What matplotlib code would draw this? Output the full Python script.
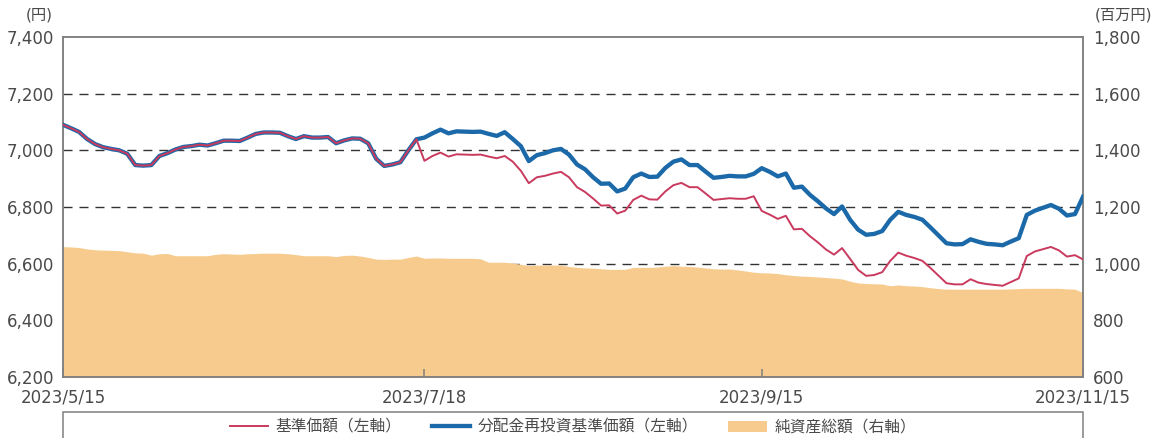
import numpy as np
import pandas as pd
import matplotlib
matplotlib.use('Agg')
import matplotlib.pyplot as plt
from matplotlib.lines import Line2D
from matplotlib.patches import Patch, Rectangle

plt.rcParams['font.family'] = ['DejaVu Sans', 'Noto Sans CJK JP']

# 営業日（日本の祝日を除く）
holidays = ['2023-07-17', '2023-08-11', '2023-09-18', '2023-10-09', '2023-11-03']
dates = pd.bdate_range('2023-05-15', '2023-11-15', freq='C', holidays=holidays)
tick_dates = ['2023-05-15', '2023-07-18', '2023-09-15', '2023-11-15']
tick_labels = ['2023/5/15', '2023/7/18', '2023/9/15', '2023/11/15']

# 基準価額（円）
nav = [7090, 7078, 7065, 7040, 7022, 7011, 7005, 7000, 6988, 6948,
       6946, 6948, 6980, 6990, 7003, 7012, 7015, 7020, 7017, 7025,
       7034, 7034, 7033, 7045, 7058, 7063, 7063, 7062, 7050, 7040,
       7050, 7045, 7045, 7047, 7025, 7035, 7042, 7041, 7025, 6970,
       6945, 6950, 6958, 7000, 7039, 6963, 6980, 6992, 6978, 6986,
       6985, 6984, 6985, 6978, 6972, 6980, 6960, 6928, 6884, 6905,
       6910, 6918, 6924, 6905, 6870, 6853, 6830, 6805, 6806, 6777,
       6787, 6825, 6840, 6827, 6826, 6855, 6877, 6885, 6870, 6870,
       6848, 6825, 6828, 6831, 6829, 6829, 6838, 6786, 6773, 6758,
       6769, 6721, 6723, 6697, 6675, 6650, 6632, 6655, 6617, 6578,
       6557, 6560, 6570, 6610, 6639, 6628, 6620, 6610, 6585, 6558,
       6531, 6527, 6527, 6545, 6533, 6528, 6525, 6522, 6535, 6548,
       6627, 6643, 6651, 6659, 6647, 6625, 6630, 6615]

# 分配金再投資基準価額（円）
nav_reinv = [7090, 7078, 7065, 7040, 7022, 7011, 7005, 7000, 6988, 6948,
             6946, 6948, 6980, 6990, 7003, 7012, 7015, 7020, 7017, 7025,
             7034, 7034, 7033, 7045, 7058, 7063, 7063, 7062, 7050, 7040,
             7050, 7045, 7045, 7047, 7025, 7035, 7042, 7041, 7025, 6970,
             6945, 6950, 6958, 7000, 7039, 7045, 7060, 7073, 7060, 7067,
             7066, 7065, 7066, 7058, 7051, 7064, 7040, 7015, 6962, 6983,
             6990, 7000, 7005, 6985, 6950, 6933, 6905, 6882, 6883, 6855,
             6865, 6905, 6918, 6906, 6907, 6938, 6960, 6968, 6948, 6948,
             6925, 6903, 6906, 6910, 6908, 6908, 6917, 6937, 6924, 6908,
             6918, 6868, 6872, 6843, 6820, 6795, 6775, 6802, 6755, 6720,
             6702, 6705, 6715, 6755, 6783, 6772, 6765, 6755, 6728, 6700,
             6672, 6668, 6669, 6686, 6677, 6670, 6668, 6665, 6678, 6690,
             6772, 6787, 6797, 6807, 6794, 6770, 6775, 6836]

# 純資産総額（百万円）
net_assets = [1060, 1059, 1057, 1052, 1049, 1048, 1047, 1046, 1042, 1038,
              1037, 1030, 1035, 1036, 1028, 1028, 1028, 1028, 1028, 1033,
              1035, 1034, 1033, 1035, 1036, 1037, 1037, 1037, 1035, 1032,
              1028, 1028, 1028, 1028, 1025, 1029, 1030, 1027, 1022, 1016,
              1015, 1016, 1016, 1022, 1027, 1019, 1020, 1020, 1019, 1019,
              1019, 1019, 1017, 1005, 1005, 1005, 1002, 998, 993, 995,
              995, 995, 995, 990, 987, 985, 984, 982, 980, 980,
              980, 987, 987, 987, 988, 991, 993, 991, 990, 988,
              985, 982, 981, 981, 978, 974, 970, 968, 967, 965,
              961, 958, 956, 955, 953, 951, 949, 946, 938, 932,
              930, 929, 928, 922, 925, 922, 921, 919, 915, 912,
              910, 910, 910, 910, 910, 910, 910, 910, 911, 912,
              913, 913, 913, 913, 913, 911, 910, 898]

left_ticks = list(range(6200, 7401, 200))
right_ticks = list(range(600, 1801, 200))

red = '#C93A5E'
blue = '#1B69A8'
orange = '#F7CB8D'
gray = '#808080'
txt = '#4a4a4a'

x = np.arange(len(dates))
tick_pos = [dates.get_loc(pd.Timestamp(d)) for d in tick_dates]

W, H = 1162, 438
fig = plt.figure(figsize=(W / 100, H / 100), dpi=100)
ax = fig.add_axes([63 / W, 61 / H, 1020 / W, 340 / H])
ax2 = ax.twinx()
ax.set_zorder(ax2.get_zorder() + 1)
ax.patch.set_visible(False)

# 目盛線（内側のみ）と純資産総額（右軸）
for v in right_ticks[1:-1]:
    ax2.axhline(v, color='#333333', lw=1.0, linestyle=(0, (6.5, 5)), zorder=1)
ax2.fill_between(x, net_assets, 0, color=orange, lw=0, zorder=2)
ax2.set_ylim(right_ticks[0], right_ticks[-1])
ax2.set_yticks(right_ticks)
ax2.set_yticklabels([f'{v:,}' for v in right_ticks])

# 基準価額（左軸）
ax.plot(x, nav_reinv, color=blue, lw=3.1, solid_joinstyle='round', zorder=3)
ax.plot(x, nav, color=red, lw=1.4, solid_joinstyle='round', zorder=4)
ax.set_ylim(left_ticks[0], left_ticks[-1])
ax.set_yticks(left_ticks)
ax.set_yticklabels([f'{v:,}' for v in left_ticks])
ax.set_xlim(x[0], x[-1])
ax.set_xticks(tick_pos)
ax.set_xticklabels(tick_labels)

for a in (ax, ax2):
    for s in a.spines.values():
        s.set_color(gray)
        s.set_linewidth(1.1)
    a.tick_params(axis='y', length=0, labelsize=12, labelcolor=txt)
ax.tick_params(axis='y', pad=6.5)
ax2.tick_params(axis='y', pad=7)
ax.tick_params(axis='x', direction='in', length=6, width=1.1, color=gray,
               labelsize=12, labelcolor=txt, pad=8)

fig.text(39 / W, 1 - 15 / H, '(円)', ha='center', va='center', fontsize=11, color=txt)
fig.text(1123 / W, 1 - 15 / H, '(百万円)', ha='center', va='center', fontsize=11, color=txt)

# 凡例の枠
fig.patches.append(Rectangle((63 / W, -0.1), 1020 / W, 0.1 + (H - 411.5) / H,
                             transform=fig.transFigure, fill=False,
                             ec=gray, lw=1.1, clip_on=False))
handles = [Line2D([], [], color=red, lw=1.4),
           Line2D([], [], color=blue, lw=3.1),
           Patch(color=orange, lw=0)]
labels = ['基準価額（左軸）', '分配金再投資基準価額（左軸）', '純資産総額（右軸）']
leg = fig.legend(handles, labels, loc='center', bbox_to_anchor=(573 / W, 11 / H),
                 ncol=3, frameon=False, fontsize=11.3, handlelength=2.45,
                 handletextpad=0.5, columnspacing=1.9)
for t in leg.get_texts():
    t.set_color(txt)

fig.savefig('out.png', dpi=100)
